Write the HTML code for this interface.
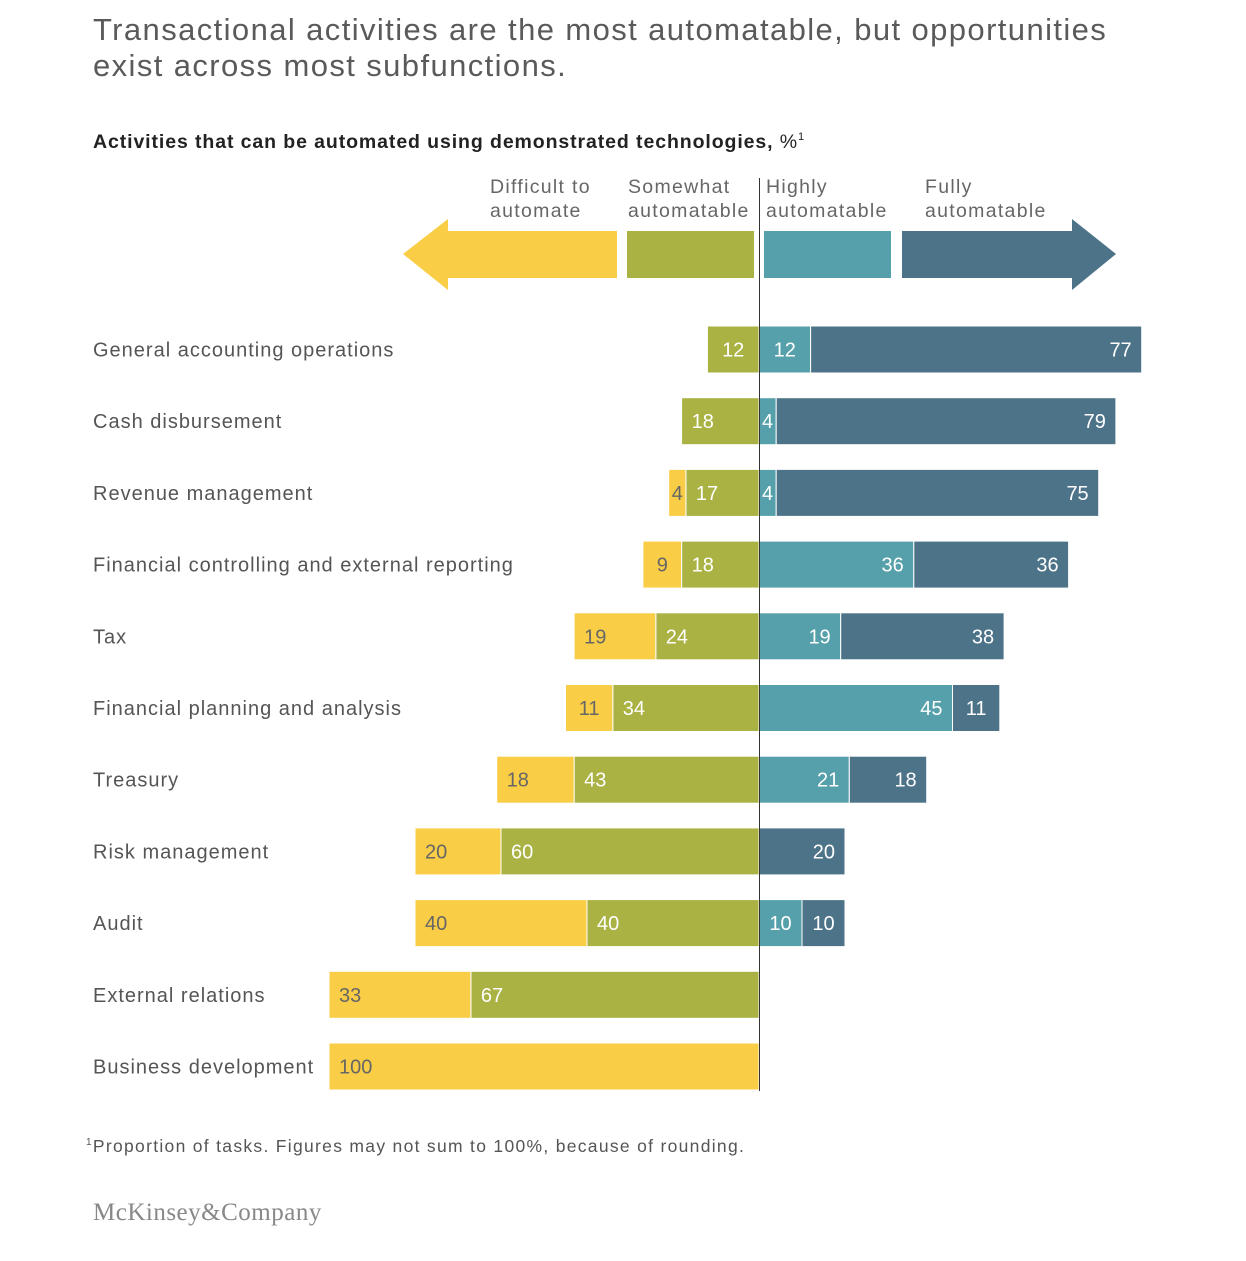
<!DOCTYPE html>
<html><head><meta charset="utf-8"><style>
body{margin:0;background:#fff;width:1246px;height:1256px;overflow:hidden;font-family:"Liberation Sans",sans-serif}
svg text{font-family:"Liberation Sans",sans-serif}
</style></head><body>
<svg width="1246" height="1256">
<text x="93" y="40" font-size="31" fill="#5a5a5a" letter-spacing="1.4">Transactional activities are the most automatable, but opportunities</text>
<text x="93" y="76" font-size="31" fill="#5a5a5a" letter-spacing="1.4">exist across most subfunctions.</text>
<text x="93" y="148" font-size="19.5" fill="#222" letter-spacing="0.9"><tspan font-weight="bold">Activities that can be automated using demonstrated technologies,</tspan> %<tspan font-size="11" dy="-8">1</tspan></text>
<g font-size="19.5" fill="#666" letter-spacing="1.3">
<text x="490" y="193">Difficult to</text><text x="490" y="217">automate</text>
<text x="628" y="193">Somewhat</text><text x="628" y="217">automatable</text>
<text x="766" y="193">Highly</text><text x="766" y="217">automatable</text>
<text x="925" y="193">Fully</text><text x="925" y="217">automatable</text>
</g>
<polygon points="403,254 448,219 448,231 617,231 617,278 448,278 448,290" fill="#F9CD45"/>
<rect x="627" y="231" width="127" height="47" fill="#A9B243"/>
<rect x="764" y="231" width="127" height="47" fill="#55A0AA"/>
<polygon points="902,231 1072,231 1072,219 1116,254 1072,290 1072,278 902,278" fill="#4D7389"/>
<g id="bars"></g>
<line x1="759.5" y1="178" x2="759.5" y2="1091" stroke="#333" stroke-width="1"/>
<text x="86" y="1152" font-size="17.5" fill="#555" letter-spacing="1.3"><tspan font-size="10" dy="-7">1</tspan><tspan dy="7">Proportion of tasks. Figures may not sum to 100%, because of rounding.</tspan></text>
<text x="93" y="1220" font-size="25" fill="#888" letter-spacing="0.5" style="font-family:'Liberation Serif',serif">McKinsey&amp;Company</text>
</svg>
<script>
const categories=["General accounting operations","Cash disbursement","Revenue management","Financial controlling and external reporting","Tax","Financial planning and analysis","Treasury","Risk management","Audit","External relations","Business development"];
const difficult=[0,0,4,9,19,11,18,20,40,33,100];
const somewhat=[12,18,17,18,24,34,43,60,40,67,0];
const highly=[12,4,4,36,19,45,21,0,10,0,0];
const fully=[77,79,75,36,38,11,18,20,10,0,0];
const cx=759,sc=4.3,top0=326,step=71.7,bh=47;
const xs=v=>v*sc;
const g=document.getElementById('bars');
const NS='http://www.w3.org/2000/svg';
function seg(x,w,y,fill,val,side,txtCol,name){
  if(val<=0)return;
  const r=document.createElementNS(NS,'rect');
  r.setAttribute('x',x);r.setAttribute('y',y);r.setAttribute('width',w);r.setAttribute('height',bh);
  r.setAttribute('fill',fill);r.setAttribute('stroke','#fff');r.setAttribute('stroke-width','1');
  
  
  g.appendChild(r);
  const t=document.createElementNS(NS,'text');
  let tx,anchor;
  if(w<60){tx=x+w/2;anchor='middle';}
  else if(side==='left'){tx=x+10;anchor='start';}
  else{tx=x+w-10;anchor='end';}
  t.setAttribute('x',tx);t.setAttribute('y',y+bh/2+7);t.setAttribute('text-anchor',anchor);
  t.setAttribute('font-size','20');t.setAttribute('fill',txtCol);t.textContent=val;
  
  
  g.appendChild(t);
}
categories.forEach((c,i)=>{
  const y=top0+i*step;
  const l=document.createElementNS(NS,'text');
  l.setAttribute('x',93);l.setAttribute('y',y+bh/2+7);l.setAttribute('font-size','20');l.setAttribute('fill','#555');l.setAttribute('letter-spacing','1');l.textContent=c;
  
  
  g.appendChild(l);
  const ws=xs(somewhat[i]),wd=xs(difficult[i]);
  seg(cx-ws,ws,y,'#A9B243',somewhat[i],'left','#fff','bar-somewhat');
  seg(cx-ws-wd,wd,y,'#F9CD45',difficult[i],'left','#666','bar-difficult');
  const wh=xs(highly[i]),wf=xs(fully[i]);
  seg(cx,wh,y,'#55A0AA',highly[i],'right','#fff','bar-highly');
  seg(cx+wh,wf,y,'#4D7389',fully[i],'right','#fff','bar-fully');
});
</script>
</body></html>
